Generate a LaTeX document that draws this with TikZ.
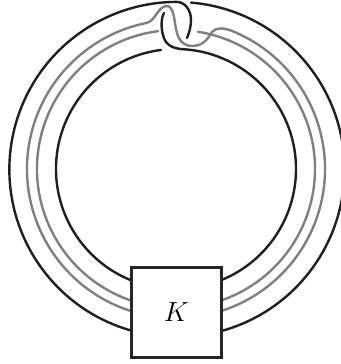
\documentclass[tikz,border=0pt]{standalone}
\tikzset{
 px/.style={x=0.75pt,y=-0.75pt},
 blackline/.style={draw=black!88,line width=1.8pt,line cap=round},
 grayline/.style={draw=black!50,line width=1.8pt,line cap=round},
 boxnode/.style={draw=black!85,fill=white,line width=1.9pt,minimum size=67.5pt,inner sep=0pt}
}
\begin{document}
\begin{tikzpicture}[px]
\useasboundingbox (0,0) rectangle (340,364);
\coordinate (c) at (176,169);
\coordinate (d) at (177,169.5);
% outer, left part running into the clasp
\draw[blackline] (131,330.5) arc[start angle=105.9,end angle=270,radius=167.5]
  .. controls (185,2) and (191,10) .. (191,20) .. controls (191,27) and (189,33) .. (187,38);
% outer, right part
\draw[blackline,shift={(d)}] (274.8:167.5) arc[start angle=274.8,end angle=434,radius=167.5];
% gray, long strand
\draw[grayline,shift={(c)}] (107.6:149) arc[start angle=107.6,end angle=258.8,radius=149];
\draw[grayline] (147,22.8) .. controls (155,21) and (158,7) .. (166,6)
  .. controls (175,5) and (174,24) .. (177,33) .. controls (180,44) and (187,46) .. (192,46)
  .. controls (204,46) and (208,38) .. (212,32) .. controls (216,27) and (224,28) .. (232,30.9);
\draw[grayline,shift={(c)}] (292.1:149) arc[start angle=292.1,end angle=432.4,radius=149];
% gray, broken strand
\draw[grayline,shift={(c)}] (108.9:139) arc[start angle=108.9,end angle=262.6,radius=139];
\draw[grayline,shift={(c)}] (279.1:139) arc[start angle=279.1,end angle=431.1,radius=139];
% inner
\draw[blackline,shift={(c)}] (112:120) arc[start angle=112,end angle=262.8,radius=120];
\draw[blackline] (164,13) .. controls (161,18) and (161,28) .. (163,35)
  .. controls (165,44) and (171,48) .. (182,49.2);
\draw[blackline,shift={(c)}] (272.9:120) arc[start angle=272.9,end angle=428,radius=120];
\node[boxnode] (K) at (176.5,312.5) {\huge $K$};
\end{tikzpicture}
\end{document}
